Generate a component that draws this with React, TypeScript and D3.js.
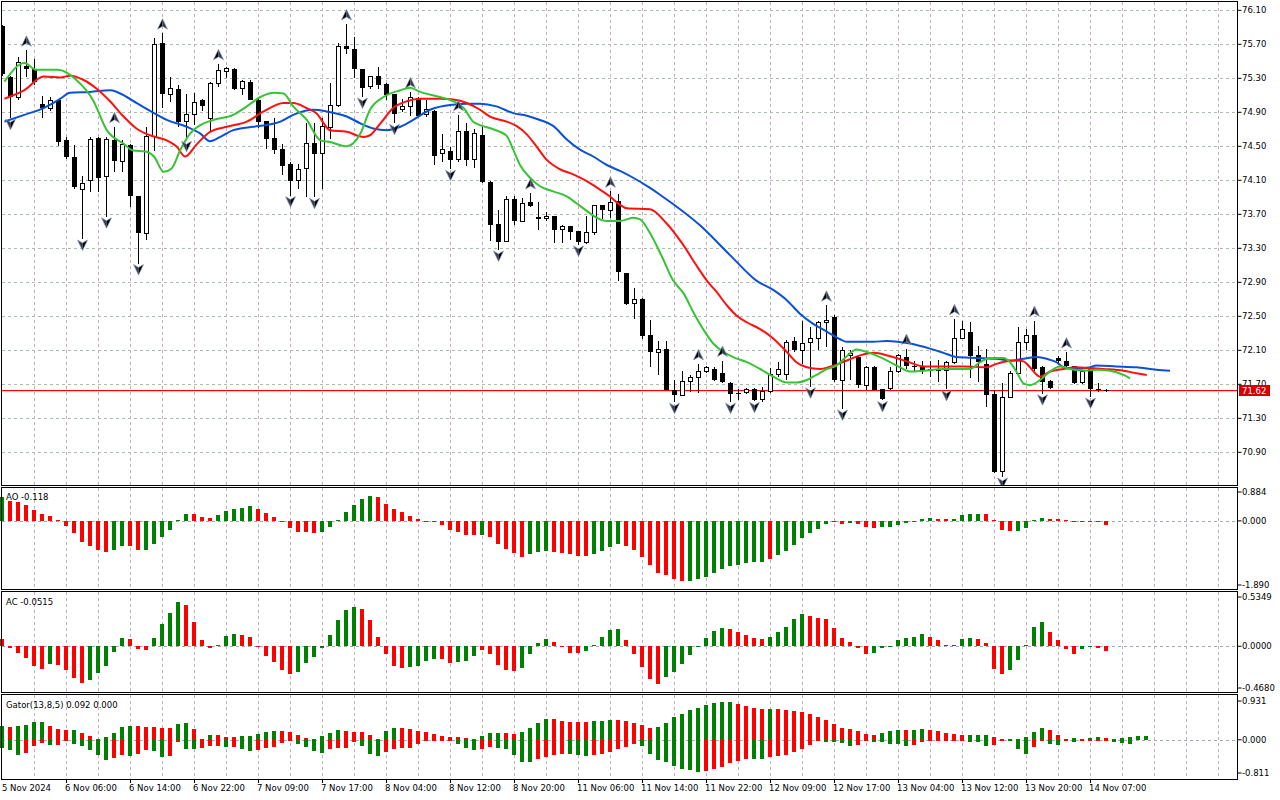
import React from 'react';
import * as d3 from 'd3';

// hourly candles [open, high, low, close]
const candles: [number, number, number, number][] = [
  [75.91, 75.93, 75.33, 75.35], [75.32, 75.33, 74.83, 75.08], [75.07, 75.55, 75.04, 75.49], [75.45, 75.63, 75.32, 75.41],
  [75.41, 75.53, 75.22, 75.26], [75.00, 75.09, 74.83, 74.95], [74.94, 75.08, 74.92, 75.04], [75.04, 75.05, 74.50, 74.55],
  [74.57, 74.61, 74.35, 74.37], [74.37, 74.52, 74.00, 74.02], [73.99, 74.15, 73.41, 74.06], [74.10, 74.61, 73.96, 74.58],
  [74.60, 74.61, 73.96, 74.13], [74.14, 74.61, 73.67, 74.58], [74.57, 74.73, 74.20, 74.33], [74.32, 74.57, 74.20, 74.52],
  [74.52, 74.53, 73.79, 73.91], [73.91, 73.92, 73.12, 73.48], [73.48, 74.73, 73.40, 74.62], [74.62, 75.77, 74.45, 75.70],
  [75.71, 75.83, 74.95, 75.11], [75.11, 75.32, 75.02, 75.18], [75.18, 75.22, 74.73, 74.79], [74.79, 75.12, 74.57, 74.88],
  [74.88, 75.13, 74.75, 75.02], [75.04, 75.06, 74.92, 74.98], [74.83, 75.26, 74.67, 75.24], [75.24, 75.47, 75.20, 75.39],
  [75.38, 75.43, 75.30, 75.41], [75.41, 75.42, 75.16, 75.17], [75.18, 75.28, 75.10, 75.26], [75.26, 75.28, 75.04, 75.05],
  [75.05, 75.06, 74.71, 74.79], [74.80, 74.80, 74.47, 74.59], [74.60, 74.83, 74.41, 74.46], [74.47, 74.53, 74.16, 74.27],
  [74.29, 74.31, 73.92, 74.09], [74.10, 74.29, 74.00, 74.23], [74.24, 74.77, 73.90, 74.53], [74.54, 74.77, 73.90, 74.41],
  [74.41, 74.83, 74.00, 74.73], [74.72, 75.24, 74.59, 74.98], [74.98, 75.71, 74.96, 75.67], [75.68, 75.94, 75.59, 75.64],
  [75.64, 75.79, 75.30, 75.41], [75.41, 75.41, 75.08, 75.19], [75.20, 75.33, 75.18, 75.32], [75.33, 75.43, 75.18, 75.22],
  [75.23, 75.24, 75.04, 75.10], [75.11, 75.12, 74.77, 74.88], [74.93, 75.06, 74.90, 74.97], [74.97, 75.14, 74.86, 75.07],
  [75.07, 75.08, 74.85, 74.86], [74.88, 75.04, 74.85, 74.93], [74.92, 74.93, 74.28, 74.39], [74.41, 74.65, 74.32, 74.46],
  [74.45, 74.49, 74.23, 74.34], [74.34, 74.87, 74.32, 74.68], [74.68, 74.78, 74.27, 74.34], [74.34, 74.70, 74.25, 74.65],
  [74.63, 74.74, 74.07, 74.08], [74.08, 74.09, 73.39, 73.58], [73.59, 73.75, 73.28, 73.38], [73.38, 73.91, 73.37, 73.88],
  [73.88, 73.92, 73.58, 73.62], [73.61, 73.89, 73.61, 73.83], [73.85, 73.95, 73.79, 73.80], [73.67, 73.85, 73.52, 73.65],
  [73.65, 73.73, 73.62, 73.68], [73.68, 73.68, 73.36, 73.52], [73.52, 73.58, 73.36, 73.56], [73.56, 73.56, 73.40, 73.49],
  [73.50, 73.50, 73.34, 73.37], [73.37, 73.68, 73.35, 73.49], [73.49, 73.81, 73.46, 73.80], [73.81, 73.81, 73.64, 73.75],
  [73.75, 73.97, 73.66, 73.84], [73.86, 73.94, 72.92, 73.02], [73.01, 73.01, 72.63, 72.65], [72.65, 72.83, 72.47, 72.70],
  [72.70, 72.72, 72.23, 72.27], [72.28, 72.46, 71.90, 72.08], [72.07, 72.21, 71.81, 72.11], [72.11, 72.21, 71.63, 71.63],
  [71.63, 71.75, 71.49, 71.58], [71.57, 71.86, 71.57, 71.73], [71.73, 71.81, 71.61, 71.78], [71.78, 71.94, 71.60, 71.85],
  [71.85, 71.91, 71.83, 71.90], [71.88, 71.90, 71.74, 71.75], [71.83, 71.98, 71.71, 71.73], [71.72, 71.73, 71.49, 71.59],
  [71.60, 71.65, 71.51, 71.59], [71.60, 71.66, 71.59, 71.64], [71.64, 71.66, 71.50, 71.52], [71.52, 71.67, 71.49, 71.62],
  [71.61, 71.89, 71.60, 71.82], [71.82, 71.96, 71.79, 71.88], [71.81, 72.22, 71.75, 72.19], [72.21, 72.26, 72.08, 72.10],
  [72.10, 72.45, 71.94, 72.18], [72.19, 72.37, 71.67, 72.24], [72.24, 72.45, 72.10, 72.43], [72.43, 72.63, 72.14, 72.45],
  [72.49, 72.51, 71.73, 71.75], [71.75, 72.14, 71.41, 72.10], [72.04, 72.10, 71.75, 72.06], [72.02, 72.04, 71.66, 71.69],
  [71.69, 71.92, 71.63, 71.90], [71.90, 71.91, 71.63, 71.63], [71.64, 71.65, 71.51, 71.53], [71.65, 71.90, 71.63, 71.85],
  [71.85, 72.06, 71.83, 72.04], [72.02, 72.12, 71.88, 71.91], [71.92, 71.97, 71.86, 71.90], [71.92, 71.98, 71.82, 71.87],
  [71.86, 71.98, 71.79, 71.88], [71.88, 71.99, 71.73, 71.86], [71.86, 71.98, 71.64, 71.96], [71.96, 72.47, 71.94, 72.24],
  [72.24, 72.45, 72.23, 72.34], [72.32, 72.43, 71.78, 72.03], [72.04, 72.15, 71.73, 71.96], [71.94, 72.11, 71.43, 71.58],
  [71.59, 71.63, 70.66, 70.67], [70.67, 71.72, 70.61, 71.55], [71.55, 71.86, 71.54, 71.83], [71.83, 72.37, 71.83, 72.19],
  [72.19, 72.35, 72.10, 72.28], [72.28, 72.45, 71.86, 71.88], [71.90, 71.91, 71.59, 71.73], [71.74, 71.75, 71.64, 71.66],
  [72.01, 72.03, 71.94, 71.97], [71.98, 72.08, 71.88, 71.91], [71.91, 71.92, 71.70, 71.71], [71.72, 71.86, 71.70, 71.85],
  [71.88, 71.90, 71.55, 71.65], [71.65, 71.72, 71.61, 71.63], [71.63, 71.64, 71.61, 71.62],
];

// alligator lines: [bar, price]
const jawPoints: [number, number][] = [
  [0.3, 74.79], [2.8, 74.87], [5.2, 74.95], [7.3, 75.06], [8.5, 75.13], [11, 75.14], [13.5, 75.16], [15.6, 75.08],
  [16.8, 75.01], [19, 74.89], [20.6, 74.81], [23.1, 74.73], [24.8, 74.65], [26, 74.56], [27.3, 74.61], [28.9, 74.69],
  [31.4, 74.73], [33.1, 74.75], [34.8, 74.79], [36.4, 74.87], [38.9, 74.93], [40.6, 74.91], [43.1, 74.85], [44.8, 74.77],
  [46.4, 74.71], [48.1, 74.69], [49.8, 74.73], [51.4, 74.81], [53.5, 74.93], [56.4, 74.99], [58.1, 75.0], [59.75, 75.0],
  [61.8, 74.97], [63.9, 74.89], [65.6, 74.86], [67.25, 74.81], [68.9, 74.74], [70.6, 74.58], [72.25, 74.46], [73.9, 74.38],
  [75.6, 74.28], [77.25, 74.21], [78.9, 74.13], [81, 74.01], [82.25, 73.93], [87.25, 73.57], [91, 73.22], [94.3, 72.92],
  [96.4, 72.81], [98.1, 72.69], [99.75, 72.53], [101.4, 72.41], [103.1, 72.32], [104.75, 72.23], [105.6, 72.2], [107.25, 72.2],
  [108.9, 72.2], [110.6, 72.21], [113.5, 72.18], [116, 72.12], [117.7, 72.07], [119.3, 72.02], [121.8, 72.01], [124.3, 72.0],
  [126, 71.98], [127.7, 72.0], [129.3, 72.02], [130.6, 72.0], [131.8, 71.96], [132.7, 71.9], [134.3, 71.88], [136, 71.9],
  [136.8, 71.92], [139.3, 71.91], [141.8, 71.9], [144.3, 71.87], [146, 71.86],
];

const teethPoints: [number, number][] = [
  [0.3, 75.06], [2.8, 75.16], [5.2, 75.32], [7.3, 75.31], [8.5, 75.33], [10.2, 75.28], [11.8, 75.18], [13.5, 75.03],
  [15.2, 74.85], [16.8, 74.71], [18.5, 74.63], [20.6, 74.57], [21.8, 74.5], [22.9, 74.38], [24.3, 74.52], [26, 74.67],
  [28.1, 74.73], [30.6, 74.79], [32.7, 74.91], [35.2, 75.01], [36.4, 75.01], [38.1, 74.95], [39.3, 74.89], [41, 74.69],
  [43.1, 74.67], [45.2, 74.61], [46, 74.63], [47.3, 74.77], [48.9, 74.95], [50.6, 75.03], [52.3, 75.06], [54.75, 75.06],
  [56.4, 75.05], [58.1, 75.01], [59.75, 74.93], [61, 74.85], [63.1, 74.79], [64.3, 74.74], [65.6, 74.64], [66.8, 74.5],
  [68.1, 74.34], [69.75, 74.23], [71.4, 74.17], [73.1, 74.09], [74.75, 73.99], [76, 73.91], [77.25, 73.81], [78.1, 73.77],
  [81, 73.76], [83, 73.6], [85, 73.36], [87, 73.07], [88.1, 72.92], [89.3, 72.79], [90.6, 72.63], [91.8, 72.51],
  [93.1, 72.43], [94.75, 72.35], [96.4, 72.24], [98.1, 72.08], [99.3, 71.96], [100.6, 71.9], [102.25, 71.88], [103.9, 71.92],
  [105.6, 71.98], [107.25, 72.04], [108.9, 72.07], [111, 72.03], [113.1, 71.97], [115.2, 71.91], [117.7, 71.91], [120.2, 71.91],
  [123.1, 71.9], [124.3, 71.94], [125.6, 71.97], [126.8, 71.98], [127.7, 71.97], [128.5, 71.9], [129.75, 71.79], [131, 71.85],
  [132.7, 71.88], [134.3, 71.9], [136, 71.89], [137.7, 71.88], [140.2, 71.86], [141.8, 71.83], [143.1, 71.81],
];

const lipsPoints: [number, number][] = [
  [0.3, 75.26], [2.8, 75.48], [4.3, 75.4], [7, 75.4], [9.3, 75.28], [11.4, 75.04], [13.1, 74.69], [15.2, 74.53],
  [16.4, 74.45], [17.9, 74.44], [19, 74.38], [20.2, 74.2], [21.2, 74.24], [22.3, 74.46], [23.5, 74.65], [24.8, 74.75],
  [26.4, 74.81], [28.9, 74.87], [30.6, 74.97], [32.3, 75.08], [34, 75.13], [35.2, 75.12], [36.4, 74.97], [38.1, 74.81],
  [39.8, 74.57], [41, 74.55], [43.1, 74.5], [44.8, 74.65], [46, 74.93], [47.7, 75.08], [49.8, 75.16], [51, 75.19],
  [52.3, 75.14], [54.75, 75.08], [56.4, 75.03], [57.7, 74.95], [58.9, 74.79], [59.75, 74.75], [61.4, 74.7], [63.1, 74.62],
  [63.9, 74.46], [64.75, 74.28], [66, 74.13], [67.25, 74.03], [68.9, 73.97], [70.6, 73.91], [71.8, 73.83], [73.1, 73.74],
  [74.3, 73.66], [75.6, 73.62], [77.25, 73.62], [78.9, 73.66], [79.75, 73.64], [81, 73.48], [82.5, 73.2], [83.9, 72.92],
  [85.2, 72.77], [86.4, 72.55], [87.7, 72.34], [88.9, 72.18], [90.2, 72.08], [91.4, 72.02], [93.1, 71.96], [94.75, 71.88],
  [96.4, 71.79], [98.1, 71.72], [99.3, 71.72], [100.6, 71.75], [101.8, 71.81], [103.1, 71.88], [104.3, 71.92], [105.6, 72.03],
  [106.8, 72.11], [108.1, 72.08], [109.75, 72.02], [111, 71.96], [112.25, 71.9], [113.5, 71.85], [115.2, 71.86], [117.7, 71.88],
  [121, 71.88], [122.25, 71.96], [123.5, 72.01], [125.2, 72.01], [126, 71.96], [126.8, 71.85], [127.7, 71.71], [128.5, 71.69],
  [129.75, 71.75], [131, 71.85], [132.25, 71.91], [133.5, 71.88], [135.2, 71.86], [136.8, 71.87], [138.5, 71.86], [140.2, 71.81],
  [141, 71.77],
];

const upFractals = [3, 14, 20, 27, 43, 51, 57, 66, 76, 87, 90, 103, 113, 119, 129, 133];
const downFractals = [1, 10, 13, 17, 23, 36, 39, 45, 49, 56, 62, 72, 84, 91, 94, 101, 105, 110, 118, 125, 130, 136];

const aoValues = [
  0.65, 0.56, 0.51, 0.44, 0.30, 0.19, 0.14, 0.03, -0.15, -0.35,
  -0.58, -0.71, -0.81, -0.85, -0.81, -0.69, -0.70, -0.81, -0.80, -0.63,
  -0.46, -0.25, 0.03, 0.20, 0.19, 0.11, 0.09, 0.17, 0.26, 0.34,
  0.37, 0.40, 0.34, 0.23, 0.12, -0.02, -0.19, -0.30, -0.31, -0.35,
  -0.32, -0.16, 0.03, 0.25, 0.44, 0.60, 0.68, 0.65, 0.48, 0.34,
  0.25, 0.14, 0.05, -0.01, -0.04, -0.12, -0.25, -0.32, -0.39, -0.40,
  -0.38, -0.46, -0.63, -0.77, -0.88, -1.00, -0.91, -0.85, -0.84, -0.86,
  -0.90, -0.93, -0.97, -0.98, -0.91, -0.83, -0.72, -0.65, -0.71, -0.82,
  -0.99, -1.23, -1.44, -1.51, -1.62, -1.68, -1.67, -1.62, -1.56, -1.45,
  -1.34, -1.26, -1.23, -1.18, -1.15, -1.14, -1.06, -0.95, -0.83, -0.67,
  -0.48, -0.34, -0.23, -0.09, -0.04, -0.09, -0.06, -0.09, -0.18, -0.21,
  -0.18, -0.16, -0.12, -0.06, -0.01, 0.06, 0.09, 0.06, 0.04, 0.06,
  0.16, 0.19, 0.185, 0.18, 0.005, -0.24, -0.29, -0.28, -0.20, 0.01,
  0.09, 0.06, 0.04, 0.01, -0.03, -0.025, -0.01, -0.03, -0.118,
];
const aoColors =
  'grrrrrrrrr' + 'rrrrggrrgg' + 'ggggrrrggg' + 'ggrrrrrrrr' + 'gggggggrrr' + 'rrrrrrrrrr' + 'grrrrrgggr' +
  'rrrrggggrr' + 'rrrrrrgggg' + 'ggggggrggg' + 'gggggrgrrr' + 'gggggggrrg' + 'gggrrrrggg' + 'grrrrggrr';

const acValues = [
  0.07, -0.02, -0.07, -0.12, -0.20, -0.24, -0.18, -0.19, -0.25, -0.33,
  -0.38, -0.35, -0.28, -0.20, -0.06, 0.08, 0.07, -0.03, -0.035, 0.08,
  0.23, 0.34, 0.46, 0.43, 0.25, 0.06, -0.02, 0.01, 0.11, 0.13,
  0.12, 0.10, -0.01, -0.10, -0.16, -0.25, -0.29, -0.27, -0.17, -0.11,
  -0.02, 0.12, 0.27, 0.37, 0.41, 0.38, 0.27, 0.10, -0.08, -0.20,
  -0.22, -0.21, -0.20, -0.15, -0.13, -0.135, -0.17, -0.168, -0.15, -0.10,
  -0.04, -0.08, -0.19, -0.25, -0.26, -0.22, -0.08, 0.03, 0.07, 0.04,
  -0.005, -0.07, -0.07, -0.05, 0.01, 0.10, 0.17, 0.18, 0.06, -0.08,
  -0.21, -0.34, -0.39, -0.32, -0.27, -0.18, -0.09, -0.003, 0.09, 0.16,
  0.19, 0.18, 0.15, 0.12, 0.09, 0.07, 0.10, 0.15, 0.20, 0.28,
  0.33, 0.31, 0.29, 0.28, 0.19, 0.09, 0.04, -0.02, -0.08, -0.07,
  -0.02, -0.003, 0.06, 0.09, 0.10, 0.13, 0.10, 0.06, 0.002, 0.01,
  0.07, 0.08, 0.07, 0.03, -0.24, -0.29, -0.25, -0.14, 0.003, 0.20,
  0.25, 0.15, 0.06, -0.03, -0.08, -0.03, -0.005, -0.02, -0.0515,
];
const acColors =
  'rrrrrrgrrr' + 'rgggggrrrg' + 'gggrrrrggg' + 'rrrrrrrggg' + 'gggggrrrrr' + 'rggggrrggg' + 'rrrrrggggr' +
  'rrrgggggrr' + 'rrrggggggg' + 'grrrrrgggg' + 'grrrrrrrrg' + 'ggggggrrrg' + 'ggrrrrgggg' + 'grrrrggrr';

const gatorUp = [
  0.30, 0.28, 0.30, 0.33, 0.39, 0.39, 0.30, 0.24, 0.22, 0.22,
  0.15, 0.09, 0.02, 0.07, 0.15, 0.28, 0.30, 0.30, 0.28, 0.28,
  0.26, 0.26, 0.35, 0.37, 0.24, 0.02, 0.11, 0.11, 0.07, 0.07,
  0.09, 0.09, 0.13, 0.17, 0.20, 0.20, 0.17, 0.11, 0.04, 0.02,
  0.09, 0.15, 0.22, 0.20, 0.17, 0.17, 0.11, 0.02, 0.20, 0.26,
  0.26, 0.24, 0.20, 0.17, 0.13, 0.09, 0.07, 0.07, 0.04, 0.02,
  0.09, 0.15, 0.15, 0.15, 0.13, 0.17, 0.26, 0.37, 0.46, 0.46,
  0.41, 0.39, 0.39, 0.39, 0.41, 0.41, 0.44, 0.44, 0.41, 0.37,
  0.33, 0.26, 0.28, 0.37, 0.50, 0.57, 0.65, 0.70, 0.76, 0.81,
  0.83, 0.83, 0.78, 0.74, 0.70, 0.67, 0.67, 0.67, 0.65, 0.63,
  0.61, 0.57, 0.50, 0.44, 0.35, 0.26, 0.24, 0.20, 0.13, 0.11,
  0.15, 0.20, 0.22, 0.22, 0.22, 0.24, 0.22, 0.20, 0.15, 0.13,
  0.11, 0.11, 0.11, 0.11, 0.07, 0.01, 0.02, 0.005, 0.07, 0.17,
  0.26, 0.22, 0.11, 0.01, 0.04, 0.01, 0.04, 0.07, 0.04, 0.02,
  0.04, 0.07, 0.09, 0.092,
];
const gatorUpColors =
  'grggggrrrg' + 'rrrggggrrr' + 'rrggrrgrrr' + 'gggggrrrrr' + 'gggrrrrrgg' + 'rrrrrrrrrr' + 'gggrrggggr' +
  'rrrrgggrrr' + 'rrgggggggg' + 'ggrrrrgrrr' + 'rrrrrrrrrr' + 'gggrggrrrr' + 'rgggrrgggg' + 'grrrgrggrr' + 'gggg';

const gatorDown = [
  0.18, 0.23, 0.33, 0.28, 0.13, 0.06, 0.11, 0.11, 0.02, 0.09,
  0.13, 0.23, 0.33, 0.45, 0.40, 0.33, 0.35, 0.30, 0.23, 0.25,
  0.38, 0.36, 0.04, 0.20, 0.21, 0.17, 0.13, 0.13, 0.15, 0.15,
  0.20, 0.25, 0.23, 0.18, 0.15, 0.06, 0.02, 0.09, 0.15, 0.25,
  0.28, 0.21, 0.17, 0.17, 0.04, 0.13, 0.31, 0.35, 0.27, 0.21,
  0.18, 0.17, 0.10, 0.02, 0.01, 0.01, 0.01, 0.09, 0.17, 0.22,
  0.20, 0.15, 0.17, 0.20, 0.33, 0.48, 0.48, 0.41, 0.37, 0.33,
  0.30, 0.30, 0.33, 0.35, 0.33, 0.30, 0.26, 0.20, 0.15, 0.09,
  0.13, 0.30, 0.44, 0.48, 0.57, 0.63, 0.65, 0.70, 0.67, 0.63,
  0.59, 0.50, 0.46, 0.41, 0.41, 0.41, 0.37, 0.35, 0.33, 0.26,
  0.20, 0.11, 0.02, 0.04, 0.05, 0.07, 0.13, 0.11, 0.01, 0.04,
  0.04, 0.09, 0.09, 0.13, 0.11, 0.04, 0.01, 0.01, 0.01, 0.01,
  0.01, 0.04, 0.04, 0.13, 0.11, 0.01, 0.01, 0.20, 0.30, 0.15,
  0.01, 0.09, 0.11, 0.01, 0.04, 0.01, 0.01, 0.01, 0.01, 0.04,
  0.07, 0.09,
];
const gatorDownColors =
  'gggrrrgrrg' + 'ggggrrgrrg' + 'grrggrrrgr' + 'ggrrrrrggg' + 'grrrrgggrr' + 'rrrrrrrggg' + 'rrgggggrrr' +
  'rgggrrrrrr' + 'ggggggggrr' + 'rrrrggrrrr' + 'rrrggggrrg' + 'ggggrrrrrr' + 'rgggrrgggr' + 'rggrgrrrrg' + 'gg';

const priceTicks = [76.1, 75.7, 75.3, 74.9, 74.5, 74.1, 73.7, 73.3, 72.9, 72.5, 72.1, 71.7, 71.3, 70.9];
const currentPrice = 71.62;

const timeLabels = [
  '5 Nov 2024', '6 Nov 06:00', '6 Nov 14:00', '6 Nov 22:00', '7 Nov 09:00', '7 Nov 17:00', '8 Nov 04:00',
  '8 Nov 12:00', '8 Nov 20:00', '11 Nov 06:00', '11 Nov 14:00', '11 Nov 22:00', '12 Nov 09:00', '12 Nov 17:00',
  '13 Nov 04:00', '13 Nov 12:00', '13 Nov 20:00', '14 Nov 07:00',
];

const GREEN = '#008000';
const RED = '#ff0000';
const FONT = 'DejaVu Sans, Verdana, sans-serif';

const RIGHT = 1237.5;
const panels = [
  { top: 1.5, bottom: 485.5 },
  { top: 487.5, bottom: 589.5 },
  { top: 591.5, bottom: 692.5 },
  { top: 694.5, bottom: 779.5 },
];

export default function App() {
  const x = d3.scaleLinear().domain([0, 1]).range([2, 10]);
  const yPrice = d3.scaleLinear().domain([70.9, 76.1]).range([452.3, 10.3]);
  const yAO = d3.scaleLinear().domain([-1.89, 0.884]).range([589, 489]);
  const yAC = d3.scaleLinear().domain([-0.468, 0.5349]).range([691.5, 594.5]);
  const yGator = d3.scaleLinear().domain([-0.811, 0.931]).range([777, 697]);

  const line = d3.line<[number, number]>()
    .x(d => x(d[0]))
    .y(d => yPrice(d[1]))
    .curve(d3.curveMonotoneX);

  const gridBars = d3.range(4, 154, 4);
  const col = (c: string) => (c === 'g' ? GREEN : RED);
  const priceY = Math.round(yPrice(currentPrice)) - 0.5;

  const histBar = (i: number, v: number, scale: d3.ScaleLinear<number, number>, color: string, key: string) => {
    const y0 = scale(0);
    const y1 = scale(v);
    const h = Math.max(1, Math.abs(y1 - y0));
    return (
      <rect key={key} x={x(i) - 2} y={v >= 0 ? y0 - h : y0} width={4} height={h} fill={color} shapeRendering="crispEdges" />
    );
  };

  const subAxis = (labels: [string, number][], key: string) =>
    labels.map(([t, y], j) => (
      <g key={key + j}>
        <line x1={RIGHT} x2={RIGHT + 4} y1={y} y2={y} stroke="#000" />
        <text x={1242} y={y} dominantBaseline="central" fontSize={8.5} fontFamily={FONT}>{t}</text>
      </g>
    ));

  return (
    <div style={{ position: 'absolute', left: 0, top: 0 }}>
      <svg width={1280} height={800} style={{ display: 'block', background: '#fff' }}>
        <defs>
          <clipPath id="mainClip">
            <rect x={2} y={2} width={RIGHT - 2} height={483} />
          </clipPath>
        </defs>

        {/* vertical grid through all panels */}
        {panels.map((p, k) =>
          gridBars.map(b => (
            <line key={`vg${k}-${b}`} x1={x(b) + 0.5} x2={x(b) + 0.5} y1={p.top} y2={p.bottom}
              stroke="#c4aac4" strokeDasharray="3,3" shapeRendering="crispEdges" />
          ))
        )}

        {/* horizontal price grid */}
        {priceTicks.map(p => (
          <line key={`hg${p}`} x1={2} x2={RIGHT} y1={Math.round(yPrice(p)) + 0.5} y2={Math.round(yPrice(p)) + 0.5}
            stroke="#a9bfa9" strokeDasharray="3,3" shapeRendering="crispEdges" />
        ))}

        {/* zero lines of the oscillators */}
        {[yAO(0), yAC(0), yGator(0)].map((y, k) => (
          <line key={`z${k}`} x1={2} x2={RIGHT} y1={Math.round(y) + 0.5} y2={Math.round(y) + 0.5}
            stroke="#a8a8b8" strokeDasharray="3,3" shapeRendering="crispEdges" />
        ))}

        {/* current price line */}
        <rect x={2} y={priceY - 0.5} width={RIGHT - 2} height={1.2} fill={RED} />

        <g clipPath="url(#mainClip)">
          {/* candles */}
          {candles.map(([o, h, l, c], i) => {
            const cx = Math.round(x(i)) + 0.5;
            const top = yPrice(Math.max(o, c));
            const bot = yPrice(Math.min(o, c));
            const bull = c >= o;
            return (
              <g key={`c${i}`} shapeRendering="crispEdges">
                <line x1={cx} x2={cx} y1={yPrice(h)} y2={yPrice(l)} stroke="#000" />
                {bull ? (
                  <rect x={cx - 2} y={top} width={4} height={Math.max(1, bot - top)} fill="#fff" stroke="#000" />
                ) : (
                  <rect x={cx - 2.5} y={top} width={5} height={Math.max(1, bot - top)} fill="#000" />
                )}
              </g>
            );
          })}

          {/* alligator */}
          <path d={line(jawPoints) || ''} fill="none" stroke="#0a50d8" strokeWidth={2} />
          <path d={line(teethPoints) || ''} fill="none" stroke="#ff1010" strokeWidth={2} />
          <path d={line(lipsPoints) || ''} fill="none" stroke="#36c436" strokeWidth={2} />

          {/* fractals */}
          {upFractals.map(i => (
            <g key={`uf${i}`} transform={`translate(${x(i) + 0.5},${yPrice(candles[i][1]) - 9})`}>
              <path d="M0,-5.5 L-5,5 L0,2 Z" fill="#000" />
              <path d="M0,-5.5 L5,5 L0,2 Z" fill="#3c3c48" />
              <path d="M0,-5.5 L-5,5 L0,2 L5,5 Z" fill="none" stroke="#7c94c0" strokeWidth={0.6} />
            </g>
          ))}
          {downFractals.map(i => (
            <g key={`df${i}`} transform={`translate(${x(i) + 0.5},${yPrice(candles[i][2]) + 6})`}>
              <path d="M0,5.5 L-5,-5 L0,-2 Z" fill="#3c3c48" />
              <path d="M0,5.5 L5,-5 L0,-2 Z" fill="#000" />
              <path d="M0,5.5 L-5,-5 L0,-2 L5,-5 Z" fill="none" stroke="#7c94c0" strokeWidth={0.6} />
            </g>
          ))}
        </g>

        {/* oscillators */}
        {aoValues.map((v, i) => histBar(i, v, yAO, col(aoColors[i]), `ao${i}`))}
        {acValues.map((v, i) => histBar(i, v, yAC, col(acColors[i]), `ac${i}`))}
        {gatorUp.map((v, i) => histBar(i, v, yGator, col(gatorUpColors[i]), `gu${i}`))}
        {gatorDown.map((v, i) => histBar(i, -v, yGator, col(gatorDownColors[i]), `gd${i}`))}

        {/* panel frames */}
        {panels.map((p, k) => (
          <rect key={`f${k}`} x={1.5} y={p.top} width={RIGHT - 1.5} height={p.bottom - p.top}
            fill="none" stroke="#000" shapeRendering="crispEdges" />
        ))}

        {/* price axis */}
        {priceTicks.map(p => (
          <g key={`pt${p}`}>
            <line x1={RIGHT} x2={RIGHT + 4} y1={yPrice(p)} y2={yPrice(p)} stroke="#000" />
            <text x={1242} y={yPrice(p)} dominantBaseline="central" fontSize={8.5} fontFamily={FONT}>{p.toFixed(2)}</text>
          </g>
        ))}
        <rect x={1239} y={priceY - 5.5} width={31} height={11} fill="#d40000" />
        <text x={1242} y={priceY} dominantBaseline="central" fontSize={8.5} fontFamily={FONT} fill="#fff">
          {currentPrice.toFixed(2)}
        </text>

        {/* oscillator axes */}
        {subAxis([['0.884', 492], ['0.000', yAO(0)], ['-1.890', 585]], 'aoax')}
        {subAxis([['0.5349', 597], ['0.0000', yAC(0)], ['-0.4680', 688]], 'acax')}
        {subAxis([['0.931', 701], ['0.000', yGator(0)], ['-0.811', 773]], 'gax')}

        {/* oscillator titles */}
        <text x={6} y={497} dominantBaseline="central" fontSize={8.5} fontFamily={FONT}>AO -0.118</text>
        <text x={6} y={602} dominantBaseline="central" fontSize={8.5} fontFamily={FONT}>AC -0.0515</text>
        <text x={6} y={705} dominantBaseline="central" fontSize={8.5} fontFamily={FONT}>Gator(13,8,5) 0.092 0.000</text>

        {/* time axis */}
        {timeLabels.map((t, k) => {
          const xi = x(k * 8);
          return (
            <g key={`tl${k}`}>
              {k > 0 && <line x1={xi + 0.5} x2={xi + 0.5} y1={779.5} y2={783} stroke="#000" />}
              <text x={k === 0 ? 2 : xi - 1} y={788} dominantBaseline="central" fontSize={8.5} fontFamily={FONT}>{t}</text>
            </g>
          );
        })}
      </svg>
    </div>
  );
}
